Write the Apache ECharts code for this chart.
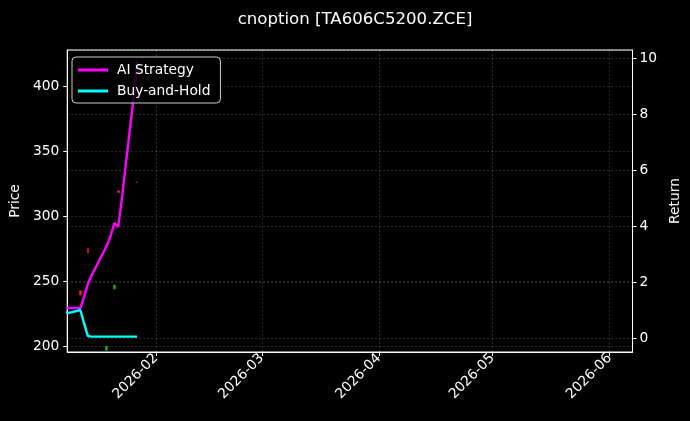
<!DOCTYPE html>
<html>
<head>
<meta charset="utf-8">
<script src="https://cdn.jsdelivr.net/npm/echarts@6/dist/echarts.min.js"></script>
<style>
  html, body { margin: 0; padding: 0; background: #000; }
  #chart { width: 690px; height: 421px; }
</style>
</head>
<body>
<div id="chart"></div>
<script>
// 交易日 + 收益曲线
let dates = ['2026-01-08', '2026-01-09', '2026-01-12', '2026-01-13', '2026-01-14', '2026-01-15', '2026-01-16',
  '2026-01-19', '2026-01-20', '2026-01-21', '2026-01-22', '2026-01-23', '2026-01-26', '2026-01-27'];
let aiReturn = [1.07, 1.07, 1.07, 1.47, 1.93, 2.25, 2.5, 3.3, 3.64, 4.11, 3.97, 5.0, 8.5, 9.9];
let holdReturn = [0.93, 0.9, 1.0, 0.52, 0.07, 0.05, 0.05, 0.05, 0.05, 0.05, 0.05, 0.05, 0.05, 0.05];

// K线 (只看得见的几根): [日期, open, close, low, high]
let candleDates = ['2026-01-12', '2026-01-14', '2026-01-19', '2026-01-21', '2026-01-22', '2026-01-27'];
let candleOpen = [239.2, 271.8, 200.0, 247.0, 318.0, 325.8];
let candleClose = [242.5, 275.2, 196.6, 243.8, 319.5, 326.3];

let xMin = '2026-01-08T12:43:00';
let xMax = '2026-06-07T02:00:00';

let myChart = echarts.init(document.getElementById('chart'));

let fontFamily = 'DejaVu Sans';
let fs = 13.8;
let white = '#ffffff';
let gridLine = { show: true, lineStyle: { color: 'rgba(255,255,255,0.28)', width: 0.6, type: [2, 2] } };

function monthLabel(val) {
  let d = new Date(val);
  return d.getFullYear() + '-' + String(d.getMonth() + 1).padStart(2, '0');
}

let option = {
  backgroundColor: '#000',
  animation: false,
  title: {
    text: 'cnoption [TA606C5200.ZCE]',
    left: 350,
    textAlign: 'center',
    top: 6,
    textStyle: { color: white, fontSize: 16.6, fontWeight: 'normal', fontFamily: fontFamily }
  },
  legend: {
    orient: 'vertical',
    left: 72,
    top: 57,
    z: 10,
    padding: [6, 10, 5, 6],
    itemGap: 7,
    itemWidth: 30,
    itemHeight: 3,
    backgroundColor: 'rgba(0,0,0,0.8)',
    borderColor: '#cccccc',
    borderWidth: 1,
    borderRadius: 4,
    textStyle: { color: white, fontSize: fs, fontFamily: fontFamily, padding: [0, 0, 0, 4] },
    data: [
      { name: 'AI Strategy', icon: 'rect' },
      { name: 'Buy-and-Hold', icon: 'rect' }
    ]
  },
  grid: {
    left: 67, right: 56, top: 50, bottom: 69,
    show: true, borderColor: white, borderWidth: 1, backgroundColor: 'transparent'
  },
  xAxis: {
    type: 'time',
    min: xMin,
    max: xMax,
    splitNumber: 5,
    axisLine: { onZero: false, lineStyle: { color: white } },
    axisTick: { show: true, length: 4, lineStyle: { color: white } },
    axisLabel: {
      color: white, fontSize: fs, fontFamily: fontFamily, rotate: 45, margin: 4,
      formatter: monthLabel, showMinLabel: false, showMaxLabel: false
    },
    splitLine: gridLine
  },
  yAxis: [
    {
      type: 'value',
      name: 'Price',
      nameLocation: 'middle',
      nameGap: 44,
      nameTextStyle: { color: white, fontSize: fs, fontFamily: fontFamily },
      min: 195.4,
      max: 427.7,
      position: 'left',
      axisLine: { show: true, onZero: false, lineStyle: { color: white } },
      axisTick: { show: true, length: 4, lineStyle: { color: white } },
      axisLabel: { color: white, fontSize: fs, fontFamily: fontFamily, showMinLabel: false, showMaxLabel: false },
      splitLine: gridLine
    },
    {
      type: 'value',
      name: 'Return',
      nameLocation: 'middle',
      nameGap: 33,
      nameRotate: 90,
      nameTextStyle: { color: white, fontSize: fs, fontFamily: fontFamily },
      min: -0.5,
      max: 10.29,
      position: 'right',
      axisLine: { show: true, onZero: false, lineStyle: { color: white } },
      axisTick: { show: true, length: 4, lineStyle: { color: white } },
      axisLabel: { color: white, fontSize: fs, fontFamily: fontFamily, margin: 7, showMinLabel: false, showMaxLabel: false },
      splitLine: gridLine
    }
  ],
  series: [
    {
      name: 'K',
      type: 'candlestick',
      yAxisIndex: 0,
      barWidth: 2.3,
      itemStyle: {
        color: '#ff2020', borderColor: '#ff2020',
        color0: '#22a022', borderColor0: '#22a022', borderWidth: 0.5
      },
      data: candleDates.map((d, i) => {
        let o = candleOpen[i], c = candleClose[i];
        return [d, o, c, Math.min(o, c), Math.max(o, c)];
      })
    },
    {
      name: 'AI Strategy',
      type: 'line',
      yAxisIndex: 1,
      symbol: 'none',
      clip: true,
      lineStyle: { color: '#ff00ff', width: 2.4 },
      itemStyle: { color: '#ff00ff' },
      data: dates.map((d, i) => [d, aiReturn[i]])
    },
    {
      name: 'Buy-and-Hold',
      type: 'line',
      yAxisIndex: 1,
      symbol: 'none',
      clip: true,
      lineStyle: { color: '#00ffff', width: 2.4 },
      itemStyle: { color: '#00ffff' },
      data: dates.map((d, i) => [d, holdReturn[i]])
    }
  ]
};
myChart.setOption(option);
</script>
</body>
</html>
